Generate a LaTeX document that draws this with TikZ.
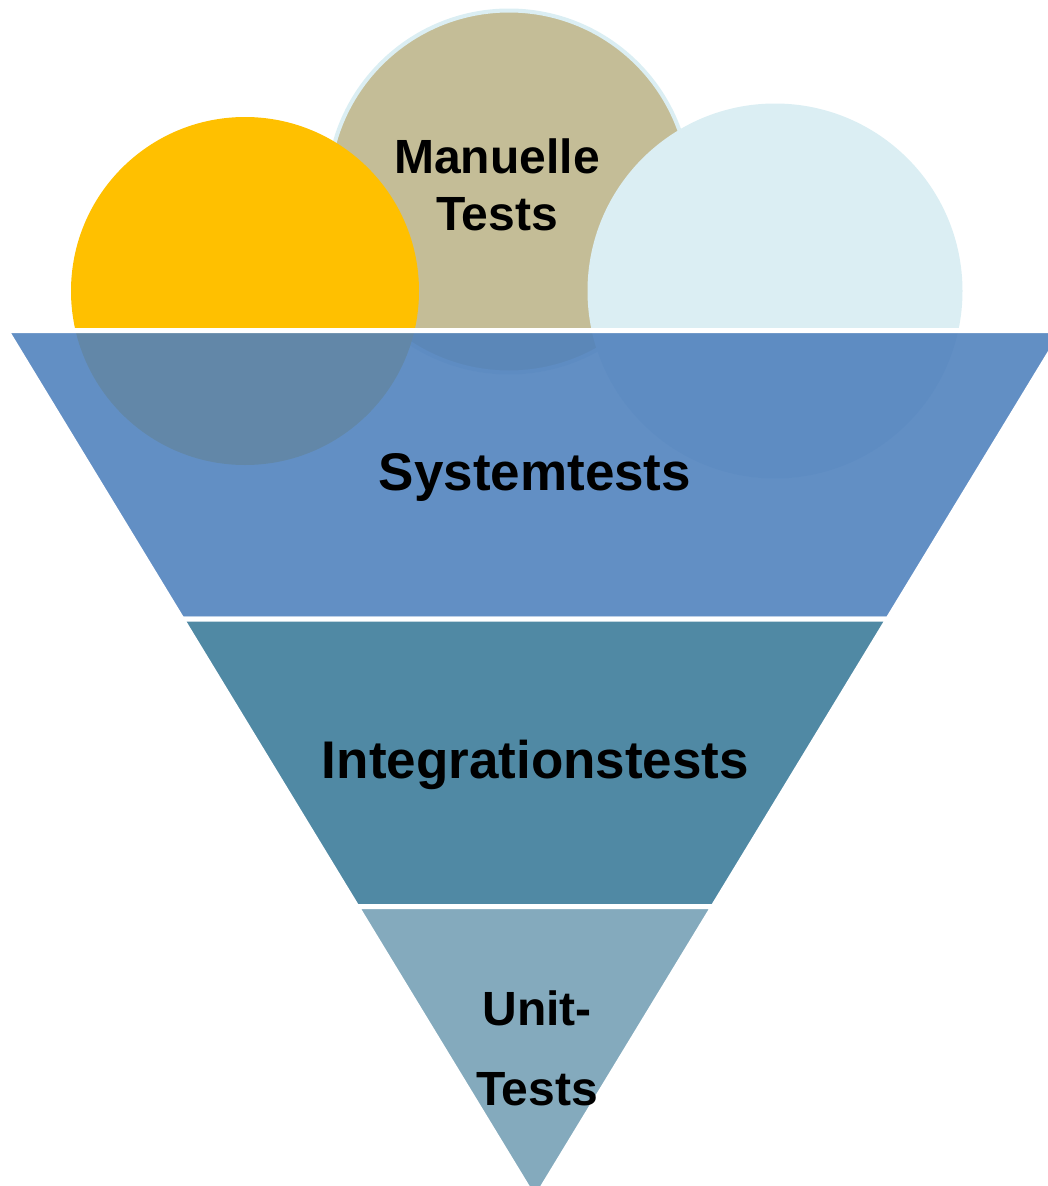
\documentclass[tikz,border=0pt]{standalone}
\usepackage{fontspec}
\setmainfont{Liberation Sans}
\definecolor{bandA}{HTML}{4F81BD}
\definecolor{bandB}{HTML}{5089A4}
\definecolor{bandC}{HTML}{84AABD}
\definecolor{gold}{HTML}{FFC000}
\definecolor{tanc}{HTML}{C4BD97}
\definecolor{ltblue}{HTML}{DBEEF3}
\begin{document}
\begin{tikzpicture}[x=1pt,y=-1pt,
  lbl/.style={font=\bfseries\fontsize{53}{60}\selectfont, inner sep=0pt, text=black},
  lbls/.style={font=\bfseries\fontsize{48}{57}\selectfont, inner sep=0pt, align=center, text=black},
  band/.style={draw=white, line width=5pt, line join=miter}]
\useasboundingbox (0,0) rectangle (1047,1186);
% circles
\fill[tanc] (509,191.5) circle[radius=181];
\draw[ltblue, line width=4pt] (509,191.5) circle[radius=181];
\fill[gold] (245,291) circle[radius=174];
\fill[ltblue] (775,291) circle[radius=187.5];
% funnel bands
\path[band, fill=bandA, fill opacity=0.89] (6.6,330.5) -- (1063.4,330.5) -- (888,619) -- (182,619) -- cycle;
\path[band, fill=bandB] (182,619) -- (888,619) -- (713.2,906.5) -- (356.8,906.5) -- cycle;
\path[band, fill=bandC] (356.8,906.5) -- (713.2,906.5) -- (535,1199.6) -- cycle;
% labels
\node[lbls, anchor=base] (man) at (497,230) {Manuelle\\Tests};
\node[lbl, anchor=base] (sys) at (535,490) {Systemtests};
\node[lbl, anchor=base] (int) at (535.5,778) {Integrationstests};
\node[lbls, anchor=base, font=\bfseries\fontsize{48}{80}\selectfont] (unit) at (537,1105) {Unit-\\Tests};
\end{tikzpicture}
\end{document}
